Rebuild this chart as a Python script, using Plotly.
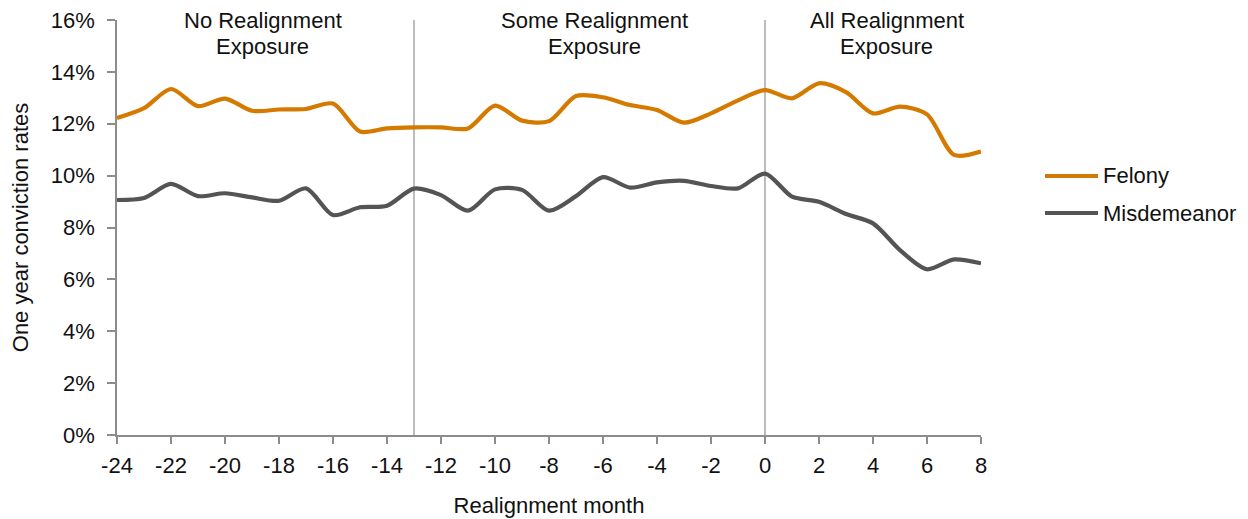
import plotly.graph_objects as go

months = list(range(-24, 9))
felony = [12.22, 12.60, 13.34, 12.68, 12.97, 12.50, 12.55, 12.57, 12.78, 11.70, 11.82, 11.86,
          11.86, 11.82, 12.70, 12.12, 12.10, 13.07, 13.02, 12.72, 12.53, 12.04, 12.40, 12.90,
          13.30, 12.98, 13.56, 13.22, 12.40, 12.66, 12.36, 10.80, 10.93]
misdemeanor = [9.06, 9.14, 9.68, 9.21, 9.32, 9.16, 9.03, 9.51, 8.48, 8.78, 8.84, 9.50,
               9.25, 8.65, 9.47, 9.45, 8.65, 9.21, 9.94, 9.54, 9.74, 9.80, 9.60, 9.51,
               10.08, 9.19, 8.99, 8.52, 8.16, 7.13, 6.39, 6.77, 6.62]
period_breaks = [-13, 0]
period_labels = [("No Realignment", "Exposure", -18.6),
                 ("Some Realignment", "Exposure", -6.3),
                 ("All Realignment", "Exposure", 4.5)]
x_ticks = list(range(-24, 9, 2))
y_ticks = list(range(0, 17, 2))

FONT = "Liberation Sans, Arial, sans-serif"
ORANGE = "#D57A00"
GRAY = "#545454"
TXT = "#111111"

fig = go.Figure()
fig.add_trace(go.Scatter(x=months, y=felony, mode="lines", name="Felony",
                         line=dict(color=ORANGE, width=4.2, shape="spline", smoothing=0.8),
                         showlegend=False))
fig.add_trace(go.Scatter(x=months, y=misdemeanor, mode="lines", name="Misdemeanor",
                         line=dict(color=GRAY, width=4.2, shape="spline", smoothing=0.8),
                         showlegend=False))

for b in period_breaks:
    fig.add_shape(type="line", x0=b, x1=b, y0=0, y1=1, xref="x", yref="paper",
                  line=dict(color="#9a9a9a", width=1.3), layer="below")

H = 415.0
def py(pix):
    return (435 - pix) / H

for l1, l2, xc in period_labels:
    fig.add_annotation(x=xc, y=py(20), xref="x", yref="paper", text=l1, showarrow=False,
                       font=dict(family=FONT, size=22, color=TXT), xanchor="center", yanchor="middle")
    fig.add_annotation(x=xc, y=py(46), xref="x", yref="paper", text=l2, showarrow=False,
                       font=dict(family=FONT, size=22, color=TXT), xanchor="center", yanchor="middle")

# manual legend
W = 864.0
def px(pix):
    return (pix - 117) / W
for name, color, ypix in [("Felony", ORANGE, 176), ("Misdemeanor", GRAY, 213)]:
    fig.add_shape(type="line", xref="paper", yref="paper", x0=px(1045), x1=px(1098),
                  y0=py(ypix), y1=py(ypix), line=dict(color=color, width=4.2))
    fig.add_annotation(x=px(1101), y=py(ypix), xref="paper", yref="paper", text=name,
                       showarrow=False, xanchor="left", yanchor="middle",
                       font=dict(family=FONT, size=22, color=TXT))

fig.update_layout(
    width=1248, height=519,
    margin=dict(l=109, r=275, t=12, b=92, autoexpand=False),
    plot_bgcolor="white", paper_bgcolor="white",
    font=dict(family=FONT, size=22, color=TXT),
    showlegend=False,
)
fig.update_xaxes(range=[-24, 8], tickvals=x_ticks, ticktext=[str(v) for v in x_ticks],
                 showgrid=False, zeroline=False, showline=True, linecolor="#8c8c8c", linewidth=1.5,
                 ticks="outside", ticklen=7, tickcolor="#8c8c8c", tickwidth=1.5,
                 ticklabelstandoff=3, automargin=False, ticklabeloverflow="allow",
                 tickfont=dict(family=FONT, size=22, color=TXT),
                 title=dict(text="Realignment month", font=dict(family=FONT, size=22, color=TXT), standoff=20))
fig.update_yaxes(range=[0, 16], tickvals=y_ticks, ticktext=[f"{v}%" for v in y_ticks],
                 showgrid=False, zeroline=False, showline=True, linecolor="#8c8c8c", linewidth=1.5,
                 ticks="outside", ticklen=8, tickcolor="#8c8c8c", tickwidth=1.5,
                 ticklabelstandoff=8, automargin=False, ticklabeloverflow="allow",
                 tickfont=dict(family=FONT, size=22, color=TXT),
                 title=dict(text="One year conviction rates", font=dict(family=FONT, size=22, color=TXT), standoff=21))

fig.write_html("out.html")
